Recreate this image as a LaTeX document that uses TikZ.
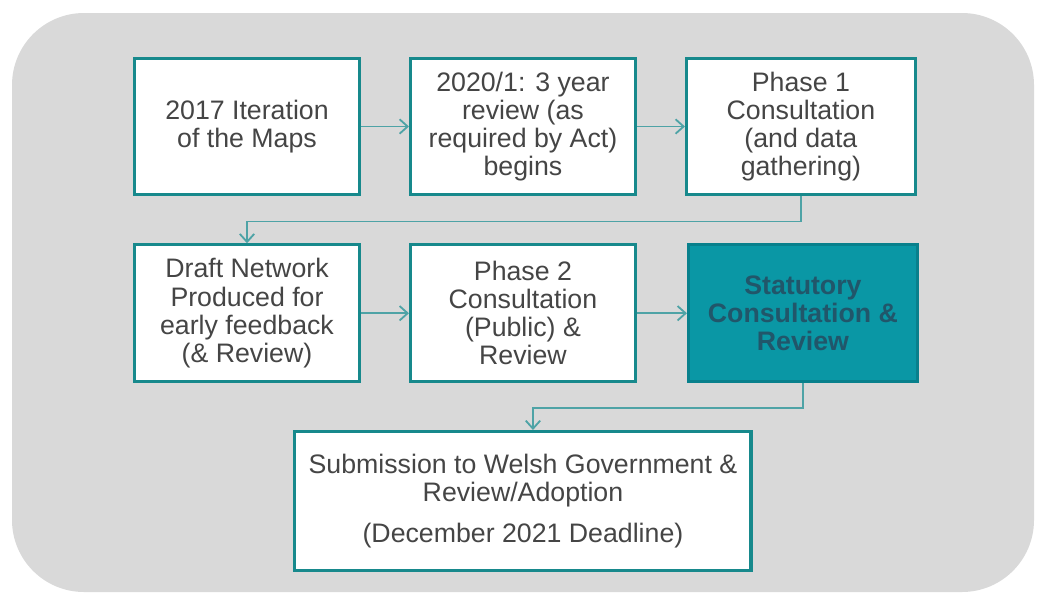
\documentclass[tikz,border=0pt]{standalone}
\usepackage{fontspec}
\setmainfont{Liberation Sans}
\usepackage{tikz}
\usetikzlibrary{arrows.meta}
\usetikzlibrary{calc}
\usetikzlibrary{positioning}

\definecolor{panelgray}{HTML}{D9D9D9}
\definecolor{boxteal}{HTML}{17898C}
\definecolor{fillteal}{HTML}{0A97A5}
\definecolor{flowteal}{HTML}{4EA3A6}
\definecolor{textgray}{HTML}{454545}
\definecolor{darktext}{HTML}{21566A}

\begin{document}
\begin{tikzpicture}[x=0.025cm, y=-0.025cm,
        stage/.style={draw=boxteal, line width=2.2pt, fill=white, minimum width=5.62cm, minimum height=3.42cm,
            align=center, text=textgray, font=\fontsize{19}{20}\selectfont, inner sep=2pt},
        keystage/.style={stage, fill=fillteal, draw=fillteal!85!black, text=darktext, font=\fontsize{19}{20}\selectfont\bfseries},
        flow/.style={draw=flowteal, line width=1.3pt, -{Straight Barb[length=2mm, width=3.6mm, line width=1.3pt]}},
        node distance=1.17cm and 1.2cm]
        \useasboundingbox (0,0) rectangle (1043,599);
        \fill[panelgray, rounded corners=1.8cm] (12,13) rectangle (1034,592);

        \node[stage] (maps) at (247,126.5) {2017 Iteration\\of the Maps};
        \node[stage, right=of maps] (review) {2020/1: 3 year\\review (as\\required by Act)\\begins};
        \node[stage, right=of review, minimum width=5.72cm] (phaseone) {Phase 1\\Consultation\\(and data\\gathering)};
        \node[stage, below=of maps] (draft) {Draft Network\\Produced for\\early feedback\\(\& Review)};
        \node[stage, right=of draft] (phasetwo) {Phase 2\\Consultation\\(Public) \&\\Review};
        \node[keystage, right=of phasetwo, xshift=0.05cm, minimum width=5.72cm] (statutory) {Statutory\\Consultation \&\\Review};
        \node[stage, below=of phasetwo, minimum width=11.4cm, minimum height=3.47cm] (submit)
            {Submission to Welsh Government \&\\Review/Adoption\\[0.3cm](December 2021 Deadline)};

        \draw[flow] (maps) -- (review);
        \draw[flow] (review) -- (phaseone);
        \draw[flow] (phaseone.south) -- ++(0,25) -| (draft.north);
        \draw[flow] (draft) -- (phasetwo);
        \draw[flow] (phasetwo) -- (statutory);
        \draw[flow] (statutory.south) -- ++(0,25) -| ([xshift=0.25cm]submit.north);
    \end{tikzpicture}
\end{document}
